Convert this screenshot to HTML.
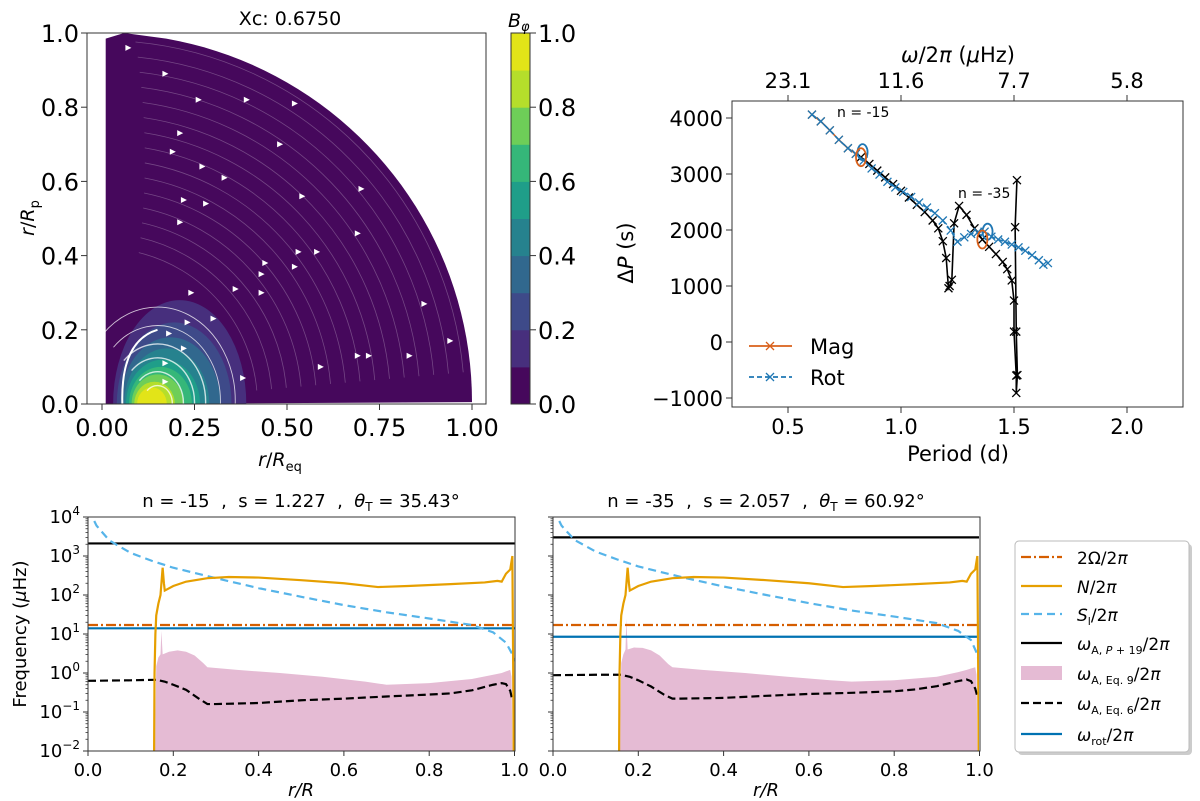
<!DOCTYPE html>
<html><head><meta charset="utf-8"><style>
html,body{margin:0;padding:0;background:#fff;}
svg{display:block;font-family:"DejaVu Sans","Liberation Sans",sans-serif;}
.pre{white-space:pre;}
</style></head><body>
<svg id="chart" width="1200" height="801" viewBox="0 0 1200 801" xmlns="http://www.w3.org/2000/svg">
<defs>
<clipPath id="clipTL"><rect x="87" y="33" width="399" height="371"/></clipPath>
<clipPath id="clipTR"><rect x="732" y="101" width="451" height="306"/></clipPath>
<clipPath id="clipB1"><rect x="88" y="517" width="427" height="234"/></clipPath>
<clipPath id="clipB2"><rect x="553" y="517" width="426" height="234"/></clipPath>
</defs>
<g id="tl"></g>
<g id="tr"></g>
<g id="b1"></g>
<g id="b2"></g>
<g id="leg"></g>
</svg>
<script>
// ---------- data ----------
const bandLevels=[0.1,0.2,0.3,0.4,0.5,0.6,0.7,0.8,0.9];
const bandCx=[0.21,0.195,0.185,0.175,0.165,0.158,0.15,0.142,0.135];
const bandA=[0.18,0.155,0.135,0.115,0.1,0.085,0.07,0.055,0.04];
const bandB=[0.28,0.22,0.18,0.15,0.12,0.1,0.08,0.06,0.045];
const cbTicks=[0,0.2,0.4,0.6,0.8,1.0];

const rotP=[0.606,0.645,0.685,0.725,0.765,0.80,0.835,0.87,0.905,0.94,0.975,1.01,1.045,1.08,1.115,1.15,1.185,1.22,1.25,1.28,1.31,1.34,1.37,1.40,1.43,1.46,1.49,1.52,1.55,1.58,1.61,1.63,1.65];
const rotDP=[4060,3940,3780,3610,3460,3360,3240,3100,2990,2860,2760,2680,2590,2490,2400,2300,2170,1990,1790,1870,1930,1960,1970,1880,1830,1790,1740,1690,1630,1550,1460,1380,1410];
const magP=[0.606,0.645,0.685,0.725,0.765,0.80,0.823];
const magDP=[4060,3940,3780,3610,3460,3360,3300];
const blkP=[0.823,0.86,0.895,0.93,0.965,1.0,1.035,1.07,1.105,1.14,1.165,1.185,1.2,1.21,1.215,1.225,1.235,1.257,1.29,1.325,1.36,1.39,1.42,1.45,1.47,1.49,1.50,1.50,1.51,1.51,1.515,1.51,1.505,1.513];
const blkDP=[3300,3180,3060,2940,2820,2700,2580,2450,2320,2170,2030,1800,1500,960,1000,1110,2120,2430,2270,2030,1830,1700,1570,1430,1300,1100,740,185,-600,-910,-590,185,2050,2890];
const topTickP=[0.5,1.0,1.5,2.0];
const topTickLbl=["23.1","11.6","7.7","5.8"];
const trYTicks=[-1000,0,1000,2000,3000,4000];
const trXTicks=[0.5,1.0,1.5,2.0];

const nR=[0.155,0.156,0.158,0.16,0.165,0.17,0.175,0.178,0.18,0.2,0.23,0.28,0.33,0.4,0.5,0.6,0.68,0.75,0.85,0.93,0.96,0.97,0.98,0.99,0.995,0.997,0.998];
const nV1=[0.01,1,10,30,60,100,500,200,130,170,220,270,290,280,240,200,160,170,190,210,230,220,350,450,1000,1,0.01];
const nV2=[0.01,1,10,30,60,100,500,200,130,170,220,270,290,280,240,200,160,170,190,210,230,220,350,450,1000,1,0.01];
const pR=[0.157,0.16,0.165,0.17,0.172,0.175,0.19,0.21,0.23,0.25,0.27,0.28,0.35,0.45,0.55,0.65,0.7,0.8,0.9,0.95,0.97,0.98,0.99,0.993,0.995];
const pV1=[0.01,1.5,2.5,3,12,3,3.5,3.8,3.5,2.8,1.8,1.4,1.2,1.0,0.8,0.6,0.5,0.55,0.7,0.9,1.0,1.1,1.2,0.8,0.01];
const pV2=[0.01,1.8,3,4,25,4,4.5,4.4,3.8,2.8,1.7,1.4,1.2,1.0,0.8,0.65,0.6,0.65,0.8,1.05,1.2,1.3,1.4,0.9,0.01];
const eR=[0,0.1,0.16,0.18,0.2,0.23,0.26,0.28,0.3,0.4,0.5,0.6,0.7,0.8,0.85,0.9,0.95,0.97,0.98,0.99,0.995];
const eV1=[0.63,0.65,0.67,0.6,0.5,0.37,0.22,0.16,0.16,0.17,0.2,0.22,0.25,0.28,0.3,0.36,0.5,0.55,0.52,0.35,0.2];
const eV2=[0.88,0.9,0.9,0.8,0.65,0.45,0.28,0.22,0.22,0.23,0.26,0.29,0.31,0.34,0.38,0.46,0.62,0.68,0.62,0.4,0.25];
const sR=[0.003,0.01,0.02,0.05,0.1,0.15,0.2,0.3,0.4,0.5,0.6,0.7,0.8,0.9,0.95,0.98,0.995,1.0];
const sV1=[16000,10000,6000,2500,1200,750,500,270,150,90,55,36,25,17,11,6,3,2];
const sV2=[16000,10000,6000,2600,1300,820,540,290,165,100,62,40,28,19,12,7,3,1.5];
const omA=[2100,3000];
const twoOmega=[17,17];
const omRot=[14,8.5];
const bXTicks=[0,0.2,0.4,0.6,0.8,1.0];
const bYExp=[-2,-1,0,1,2,3,4];

// ---------- helpers ----------
const NS='http://www.w3.org/2000/svg';
function mk(tag,attrs,parent){const e=document.createElementNS(NS,tag);for(const k in attrs)e.setAttribute(k,attrs[k]);parent.appendChild(e);return e;}
let el;

// ---------- top-left ----------
const TL=document.getElementById('tl');
const tX=r=>102+r*370, tY=z=>404-z*371;
const gf=mk('g',{'clip-path':'url(#clipTL)'},TL);
el=gf;


const bandCols=['#46085c','#472f7d','#3e4a89','#31688e','#26828e','#1f9e89','#35b779','#6ece58','#b5de2b','#e2e418'];
let d='M'+tX(0.01)+','+tY(0)+' L'+tX(0.01)+','+tY(0.985)+' L'+tX(0.06)+','+tY(1.0);
for(let t=80;t>=0;t-=2){const a=t*Math.PI/180;d+=' L'+tX(Math.cos(a))+','+tY(Math.min(1,Math.sin(a)*0.995+0.005))}
d+=' Z';
el=mk('path',{d:d,fill:bandCols[0]},gf);


for(let i=0;i<bandLevels.length;i++){
  el=mk('ellipse',{cx:tX(bandCx[i]),cy:tY(0),rx:bandA[i]*370,ry:bandB[i]*371,fill:bandCols[i+1]},gf);
  
  
}
for(let r=0.42;r<0.99;r+=0.04){
  const a0=5*Math.PI/180,a1=(70+ r*15)*Math.PI/180;
  el=mk('path',{d:'M'+tX(r*Math.cos(a0))+','+tY(r*Math.sin(a0))+' A'+(r*370)+','+(r*371)+' 0 0 0 '+tX(r*Math.cos(a1))+','+tY(r*Math.sin(a1)),fill:'none',stroke:'#ffffff','stroke-opacity':0.25,'stroke-width':0.8},gf);
  
  
}
const blobR=[0.04,0.07,0.1,0.13,0.17,0.21];
for(let i=0;i<blobR.length;i++){
  const r=blobR[i],cx=0.15;
  el=mk('path',{d:'M'+tX(cx+r)+','+tY(0)+' A'+(r*370)+','+(r*1.2*371)+' 0 0 0 '+tX(cx-r*0.7)+','+tY(r*0.9),fill:'none',stroke:'#ffffff','stroke-opacity':0.75,'stroke-width':i<4?1.4:0.9},gf);
  
  
}
el=mk('path',{d:'M'+tX(0.055)+','+tY(0)+' Q'+tX(0.05)+','+tY(0.17)+' '+tX(0.15)+','+tY(0.2),fill:'none',stroke:'#fff','stroke-width':2},gf);


const arrowX=[0.07,0.17,0.26,0.39,0.52,0.21,0.48,0.19,0.27,0.33,0.22,0.28,0.54,0.7,0.21,0.69,0.53,0.58,0.44,0.43,0.52,0.36,0.43,0.24,0.23,0.3,0.18,0.22,0.17,0.17,0.38,0.59,0.69,0.72,0.83,0.87,0.94];
const arrowY=[0.96,0.89,0.82,0.82,0.81,0.73,0.7,0.68,0.64,0.61,0.55,0.54,0.56,0.58,0.49,0.46,0.41,0.41,0.38,0.35,0.37,0.31,0.3,0.3,0.22,0.23,0.19,0.15,0.11,0.06,0.07,0.1,0.13,0.13,0.13,0.27,0.17];
for(let i=0;i<arrowX.length;i++){
  const x=tX(arrowX[i]),y=tY(arrowY[i]);
  el=mk('polygon',{points:(x-2.5)+','+(y-3)+' '+(x+3.5)+','+y+' '+(x-2.5)+','+(y+3),fill:'#fff'},gf);
  
  
}
el=mk('rect',{x:87,y:33,width:399,height:371,fill:'none',stroke:'#333','stroke-width':1},TL);


const tlTicks=[0,0.25,0.5,0.75,1.0];
const tlXL=["0.00","0.25","0.50","0.75","1.00"];
for(let i=0;i<tlTicks.length;i++){
  el=mk('line',{x1:tX(tlTicks[i]),x2:tX(tlTicks[i]),y1:404,y2:410,stroke:'#333'},TL);
  
  
  el=mk('text',{x:tX(tlTicks[i]),y:436,'font-size':24,'text-anchor':'middle'},TL);
  el.textContent=tlXL[i];
  
  
}
const tlYT=[0,0.2,0.4,0.6,0.8,1.0];
for(let i=0;i<tlYT.length;i++){
  el=mk('line',{x1:81,x2:87,y1:tY(tlYT[i]),y2:tY(tlYT[i]),stroke:'#333'},TL);
  
  
  el=mk('text',{x:79,y:tY(tlYT[i])+9,'font-size':24,'text-anchor':'end'},TL);
  el.textContent=tlYT[i].toFixed(1);
  
  
}
for(let i=0;i<10;i++){
  el=mk('rect',{x:511,y:404-(i+1)*37.1,width:19,height:37.6,fill:bandCols[i]},TL);
  
  
}
el=mk('rect',{x:511,y:33,width:19,height:371,fill:'none',stroke:'#333'},TL);


for(let i=0;i<cbTicks.length;i++){
  const y=404-cbTicks[i]*371;
  el=mk('line',{x1:530,x2:536,y1:y,y2:y,stroke:'#333'},TL);
  
  
  el=mk('text',{x:538,y:y+9,'font-size':24},TL);
  el.textContent=cbTicks[i].toFixed(1);
  
  
}
</script>
<script>
(function(){
const TL=document.getElementById('tl');
TL.insertAdjacentHTML('beforeend',
'<text x="290" y="25" font-size="19" text-anchor="middle">Xc: 0.6750</text>'+
'<text x="508" y="27" font-size="19" font-style="italic">B<tspan font-size="13" dy="4">φ</tspan></text>'+
'<text x="280" y="466" font-size="19" text-anchor="middle"><tspan font-style="italic">r</tspan>/<tspan font-style="italic">R</tspan><tspan font-size="13" dy="5">eq</tspan></text>'+
'<text transform="translate(34,218) rotate(-90)" font-size="19" text-anchor="middle"><tspan font-style="italic">r</tspan>/<tspan font-style="italic">R</tspan><tspan font-size="13" dy="5">p</tspan></text>');
})();
</script>
<script>
(function(){
const NS='http://www.w3.org/2000/svg';
function mk(tag,attrs,parent){const e=document.createElementNS(NS,tag);for(const k in attrs)e.setAttribute(k,attrs[k]);parent.appendChild(e);return e;}
let el;
const TR=document.getElementById('tr');
const X=p=>788+(p-0.5)*226, Y=v=>342-v*0.056;
const g=mk('g',{'clip-path':'url(#clipTR)'},TR);
function series(P,V,color,dash,name,markColor){
  el=mk('polyline',{points:P.map((p,i)=>X(p)+','+Y(V[i])).join(' '),fill:'none',stroke:color,'stroke-width':1.6,'stroke-dasharray':dash||'none'},g);
  
  
  for(let i=0;i<P.length;i++){
    const x=X(P[i]),y=Y(V[i]);
    el=mk('path',{d:'M'+(x-4)+','+(y-4)+'L'+(x+4)+','+(y+4)+'M'+(x-4)+','+(y+4)+'L'+(x+4)+','+(y-4),stroke:markColor||color,'stroke-width':1.3},g);
    
    
  }
}
series(magP,magDP,'#d9601a','','mag');
series(blkP,blkDP,'#000','','mag-continued');
series(rotP,rotDP,'#1f77b4','5,3','rot');
const circP=[0.823,1.36], circV=[3300,1830], circC=['#d9601a','#d9601a'];
const bcircP=[0.83,1.383], bcircV=[3390,1970];
for(let i=0;i<2;i++){
  el=mk('ellipse',{cx:X(bcircP[i]),cy:Y(bcircV[i]),rx:5,ry:8,fill:'none',stroke:'#1f77b4','stroke-width':1.8},g);
  
  
  el=mk('ellipse',{cx:X(circP[i]),cy:Y(circV[i]),rx:5,ry:9,fill:'none',stroke:circC[i],'stroke-width':1.8},g);
  
  
}
el=mk('rect',{x:732,y:101,width:451,height:306,fill:'none',stroke:'#333'},TR);


for(let i=0;i<trXTicks.length;i++){
  el=mk('line',{x1:X(trXTicks[i]),x2:X(trXTicks[i]),y1:407,y2:413,stroke:'#333'},TR);
  
  
  el=mk('text',{x:X(trXTicks[i]),y:434,'font-size':21,'text-anchor':'middle'},TR);
  el.textContent=trXTicks[i].toFixed(1);
  
  
}
for(let i=0;i<topTickP.length;i++){
  el=mk('line',{x1:X(topTickP[i]),x2:X(topTickP[i]),y1:95,y2:101,stroke:'#333'},TR);
  
  
  el=mk('text',{x:X(topTickP[i]),y:88,'font-size':21,'text-anchor':'middle'},TR);
  el.textContent=topTickLbl[i];
  
  
}
for(let i=0;i<trYTicks.length;i++){
  el=mk('line',{x1:726,x2:732,y1:Y(trYTicks[i]),y2:Y(trYTicks[i]),stroke:'#333'},TR);
  
  
  el=mk('text',{x:723,y:Y(trYTicks[i])+8,'font-size':21,'text-anchor':'end'},TR);
  el.textContent=String(trYTicks[i]).replace('-','\u2212');
  
  
}
TR.insertAdjacentHTML('beforeend',
'<text x="837" y="117" font-size="14">n = -15</text>'+
'<text x="958" y="198" font-size="14">n = -35</text>'+
'<text x="958" y="62" font-size="21" text-anchor="middle"><tspan font-style="italic">ω</tspan>/2<tspan font-style="italic">π</tspan> (<tspan font-style="italic">μ</tspan>Hz)</text>'+
'<text x="958" y="461" font-size="21" text-anchor="middle">Period (d)</text>'+
'<text transform="translate(633,253) rotate(-90)" font-size="21" text-anchor="middle">Δ<tspan font-style="italic">P</tspan> (s)</text>'+
'<g>'+
'<line x1="749" y1="346" x2="792" y2="346" stroke="#d9601a" stroke-width="1.8"/>'+
'<path d="M766,342L774,350M766,350L774,342" stroke="#d9601a" stroke-width="1.3"/>'+
'<text x="810" y="354" font-size="21">Mag</text>'+
'<line x1="749" y1="377" x2="792" y2="377" stroke="#1f77b4" stroke-width="1.8" stroke-dasharray="5,3"/>'+
'<path d="M766,373L774,381M766,381L774,373" stroke="#1f77b4" stroke-width="1.3"/>'+
'<text x="810" y="385" font-size="21">Rot</text></g>');
})();
</script>
<script>
(function(){
const NS='http://www.w3.org/2000/svg';
function mk(tag,attrs,parent){const e=document.createElementNS(NS,tag);for(const k in attrs)e.setAttribute(k,attrs[k]);parent.appendChild(e);return e;}
let el;
const Y=v=>751-(Math.log10(Math.max(v,1e-3))+2)*39;
function panel(id,x0,clip,idx,nV,pV,eV,sV,showY,title){
  const G=document.getElementById(id);
  const X=r=>x0+r*426.5;
  const g=mk('g',{'clip-path':'url(#'+clip+')'},G);
  el=mk('polygon',{points:pR.map((r,i)=>X(r)+','+Y(pV[i])).join(' ')+' '+X(pR[pR.length-1])+',751 '+X(pR[0])+',751',fill:'#e5bbd4'},g);
  
  
  el=mk('polyline',{points:eR.map((r,i)=>X(r)+','+Y(eV[i])).join(' '),fill:'none',stroke:'#000','stroke-width':2.2,'stroke-dasharray':'8,4'},g);
  
  
  el=mk('line',{x1:x0,x2:x0+427,y1:Y(omA[idx]),y2:Y(omA[idx]),stroke:'#000','stroke-width':2.2},g);
  
  
  el=mk('line',{x1:x0,x2:x0+427,y1:Y(twoOmega[idx]),y2:Y(twoOmega[idx]),stroke:'#d55e00','stroke-width':2.2,'stroke-dasharray':'10,3,2,3'},g);
  
  
  el=mk('line',{x1:x0,x2:x0+427,y1:Y(omRot[idx]),y2:Y(omRot[idx]),stroke:'#0072b2','stroke-width':2.2},g);
  
  
  el=mk('polyline',{points:sR.map((r,i)=>X(r)+','+Y(sV[i])).join(' '),fill:'none',stroke:'#56b4e9','stroke-width':2.2,'stroke-dasharray':'8,5'},g);
  
  
  el=mk('polyline',{points:nR.map((r,i)=>X(r)+','+Y(nV[i])).join(' '),fill:'none',stroke:'#e69f00','stroke-width':2.2},g);
  
  
  el=mk('rect',{x:x0,y:517,width:427,height:234,fill:'none',stroke:'#333'},G);
  
  
  for(let i=0;i<bXTicks.length;i++){
    el=mk('line',{x1:X(bXTicks[i]),x2:X(bXTicks[i]),y1:751,y2:756,stroke:'#333'},G);
    
    
    el=mk('text',{x:X(bXTicks[i]),y:776,'font-size':18,'text-anchor':'middle'},G);
    el.textContent=bXTicks[i].toFixed(1);
    
    
  }
  for(let k=0;k<bYExp.length;k++){
    const y=Y(Math.pow(10,bYExp[k]));
    el=mk('line',{x1:x0-5,x2:x0,y1:y,y2:y,stroke:'#333'},G);
    
    
    if(k<bYExp.length-1){for(let m=2;m<10;m++){const ym=Y(m*Math.pow(10,bYExp[k]));
      el=mk('line',{x1:x0-2.5,x2:x0,y1:ym,y2:ym,stroke:'#333','stroke-width':0.8},G);
      
      }}
    if(showY){
      el=mk('text',{x:x0-8,y:y+6,'font-size':18,'text-anchor':'end'},G);
      el.innerHTML='10<tspan font-size="12" dy="-8">'+String(bYExp[k]).replace('-','\u2212')+'</tspan>';
      
      
    }
  }
  el=mk('text',{x:x0+213,y:507,'font-size':18,'text-anchor':'middle','class':'pre'},G);
  el.innerHTML=title;
  
  
  el=mk('text',{x:x0+213,y:796,'font-size':18,'text-anchor':'middle','font-style':'italic'},G);
  el.textContent='r/R';
  
  
}
panel('b1',88,'clipB1',0,nV1,pV1,eV1,sV1,true,'n = -15  ,  s = 1.227  ,  <tspan font-style="italic">θ</tspan><tspan font-size="12" dy="4">T</tspan><tspan dy="-4"> = 35.43°</tspan>');
panel('b2',553,'clipB2',1,nV2,pV2,eV2,sV2,false,'n = -35  ,  s = 2.057  ,  <tspan font-style="italic">θ</tspan><tspan font-size="12" dy="4">T</tspan><tspan dy="-4"> = 60.92°</tspan>');
document.getElementById('b1').insertAdjacentHTML('beforeend','<text transform="translate(26,634) rotate(-90)" font-size="18" text-anchor="middle">Frequency (<tspan font-style="italic">μ</tspan>Hz)</text>');
document.getElementById('leg').insertAdjacentHTML('beforeend',
'<rect x="1018" y="544" width="174" height="211" rx="4" fill="#ccc"/>'+
'<rect x="1015" y="541" width="174" height="211" rx="4" fill="#fff" stroke="#bbb"/>'+
'<line x1="1021" y1="557" x2="1062" y2="557" stroke="#d55e00" stroke-width="2.2" stroke-dasharray="10,3,2,3"/>'+
'<text x="1077" y="564" font-size="17">2Ω/2<tspan font-style="italic">π</tspan></text>'+
'<line x1="1021" y1="586" x2="1062" y2="586" stroke="#e69f00" stroke-width="2.2"/>'+
'<text x="1077" y="593" font-size="17"><tspan font-style="italic">N</tspan>/2<tspan font-style="italic">π</tspan></text>'+
'<line x1="1021" y1="614" x2="1062" y2="614" stroke="#56b4e9" stroke-width="2.2" stroke-dasharray="8,5"/>'+
'<text x="1077" y="621" font-size="17"><tspan font-style="italic">S</tspan><tspan font-size="11" dy="4">l</tspan><tspan dy="-4">/2</tspan><tspan font-style="italic">π</tspan></text>'+
'<line x1="1021" y1="643" x2="1062" y2="643" stroke="#000" stroke-width="2.2"/>'+
'<text x="1077" y="650" font-size="17"><tspan font-style="italic">ω</tspan><tspan font-size="11" dy="4">A, <tspan font-style="italic">P</tspan> + 19</tspan><tspan dy="-4">/2</tspan><tspan font-style="italic">π</tspan></text>'+
'<rect x="1021" y="666" width="41" height="14" fill="#e5bbd4"/>'+
'<text x="1077" y="680" font-size="17"><tspan font-style="italic">ω</tspan><tspan font-size="11" dy="4">A, Eq. 9</tspan><tspan dy="-4">/2</tspan><tspan font-style="italic">π</tspan></text>'+
'<line x1="1021" y1="703" x2="1062" y2="703" stroke="#000" stroke-width="2.2" stroke-dasharray="8,4"/>'+
'<text x="1077" y="710" font-size="17"><tspan font-style="italic">ω</tspan><tspan font-size="11" dy="4">A, Eq. 6</tspan><tspan dy="-4">/2</tspan><tspan font-style="italic">π</tspan></text>'+
'<line x1="1021" y1="734" x2="1062" y2="734" stroke="#0072b2" stroke-width="2.2"/>'+
'<text x="1077" y="741" font-size="17"><tspan font-style="italic">ω</tspan><tspan font-size="11" dy="4">rot</tspan><tspan dy="-4">/2</tspan><tspan font-style="italic">π</tspan></text>');
})();
</script>
</body></html>
